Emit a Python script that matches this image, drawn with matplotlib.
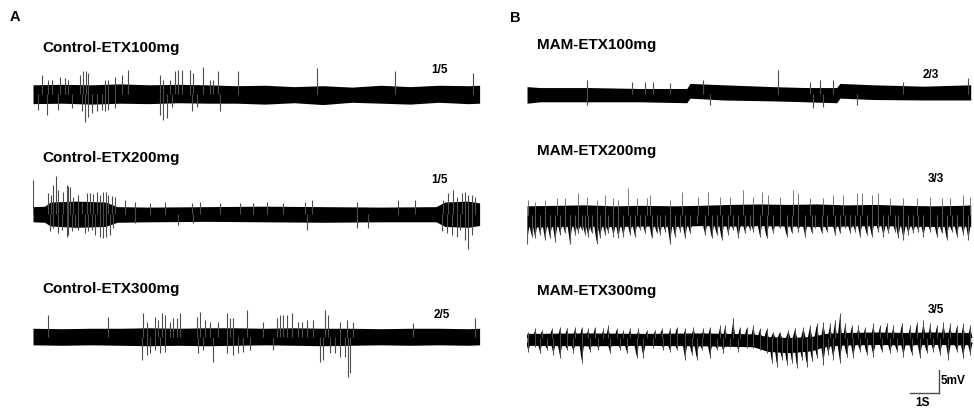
import matplotlib
matplotlib.use('Agg')
import matplotlib.pyplot as plt

plt.rcParams['font.family'] = ['Liberation Sans', 'DejaVu Sans']

W, H = 974, 412

# ---- data: time in s, amplitude in mV (relative to trace baseline) ----
# Control-ETX100mg
a1_env_t = [0, 1, 2, 3, 4, 5, 6, 7, 8, 9, 10, 11, 12, 13, 14, 15, 15.4]
a1_env_hi = [2.0, 2.1, 2.0, 2.2, 2.0, 2.1, 2.0, 1.8, 1.9, 1.6, 1.8, 1.5, 1.9, 1.6, 1.9, 1.8, 1.9]
a1_env_lo = [-2.1, -2.0, -2.2, -2.0, -2.1, -1.9, -2.0, -2.0, -2.2, -1.9, -2.3, -1.8, -2.0, -2.2, -1.8, -2.1, -2.0]
a1_up_t = [0.30, 0.53, 0.64, 0.93, 1.10, 1.22, 1.62, 1.71, 1.83, 1.91, 2.48, 2.60, 2.83, 3.06, 3.29,
           4.38, 4.49, 4.72, 4.90, 5.01, 5.13, 5.41, 5.53, 5.87, 6.10, 6.22, 6.39, 7.08, 9.78, 12.48, 15.18]
a1_up_h = [4.1, 3.0, 3.0, 3.8, 3.4, 3.0, 4.1, 4.9, 4.9, 4.5, 3.0, 3.0, 3.8, 4.1, 5.2,
           4.1, 3.0, 3.0, 4.9, 5.2, 5.2, 5.2, 4.5, 5.9, 3.0, 3.0, 4.9, 4.9, 5.6, 4.9, 4.5]
a1_dn_t = [0.18, 0.47, 0.87, 1.33, 1.68, 1.79, 1.91, 2.02, 2.20, 2.37, 2.48, 2.60, 2.83,
           4.38, 4.49, 4.61, 4.78, 5.47, 5.64, 6.45]
a1_dn_h = [3.5, 4.6, 3.5, 3.1, 3.8, 6.0, 4.9, 4.2, 3.8, 3.5, 3.8, 3.5, 3.1,
           4.6, 5.7, 5.3, 2.8, 3.8, 2.8, 3.8]

# Control-ETX200mg
a2_env_t = [0, 0.4, 0.6, 1.5, 2.5, 2.9, 4, 6, 8, 10, 12, 13.9, 14.2, 15.0, 15.4]
a2_env_hi = [1.6, 1.7, 2.6, 2.8, 2.6, 1.6, 1.5, 1.6, 1.7, 1.6, 1.5, 1.6, 2.6, 2.8, 2.4]
a2_env_lo = [-1.7, -1.8, -2.6, -2.9, -2.7, -1.8, -1.7, -1.6, -1.7, -1.8, -1.7, -1.7, -2.7, -2.9, -2.5]
a2_up_t = [0.01, 0.53, 0.61, 0.70, 0.79, 0.87, 1.02, 1.16, 1.22, 1.28, 1.39, 1.56, 1.68, 1.85, 1.97,
           2.08, 2.20, 2.31, 2.43, 2.52, 2.60, 2.71, 2.83, 3.17, 3.52, 4.03, 4.55, 5.47, 5.76, 6.45,
           7.14, 7.60, 8.06, 8.63, 9.38, 9.61, 11.16, 12.60, 13.17, 14.15, 14.32, 14.49, 14.61,
           14.78, 14.90, 15.01, 15.13, 15.24]
a2_up_h = [7.4, 4.5, 4.1, 6.3, 8.3, 5.2, 4.8, 6.3, 6.1, 5.9, 3.8, 4.1, 2.7, 4.5, 4.5,
           4.3, 4.8, 4.1, 4.8, 4.8, 4.1, 3.9, 3.8, 3.0, 2.7, 2.3, 2.7, 2.3, 2.7, 2.3,
           2.3, 2.5, 2.7, 2.3, 2.7, 3.0, 2.7, 3.0, 3.0, 3.0, 4.5, 5.2, 3.8,
           4.5, 4.8, 4.1, 4.1, 3.8]
a2_dn_t = [0.59, 0.70, 0.87, 0.99, 1.16, 1.22, 1.33, 1.45, 1.56, 1.79, 1.91, 2.02, 2.14, 2.31,
           2.43, 2.52, 2.66, 2.77, 3.52, 5.01, 5.53, 9.44, 11.16, 11.56, 14.09, 14.26, 14.44,
           14.61, 14.72, 14.90, 15.01, 15.13]
a2_dn_h = [3.8, 3.1, 4.2, 3.5, 4.9, 4.6, 3.8, 3.1, 3.5, 4.2, 3.8, 3.5, 4.6, 4.9,
           5.3, 4.9, 4.6, 3.1, 2.0, 2.4, 2.0, 3.5, 3.1, 3.1, 3.8, 4.2, 4.6,
           4.9, 3.5, 5.7, 7.5, 4.6]

# Control-ETX300mg
a3_env_t = [0, 1, 2, 3, 4, 5, 6, 7, 8, 9, 10, 11, 12, 13, 14, 15, 15.4]
a3_env_hi = [1.9, 1.8, 1.9, 1.9, 2.0, 1.9, 2.0, 2.0, 1.9, 2.0, 1.9, 1.9, 1.8, 1.9, 1.9, 1.8, 1.9]
a3_env_lo = [-1.7, -1.8, -1.7, -1.8, -1.9, -1.8, -1.9, -1.8, -1.7, -1.8, -1.9, -1.8, -1.7, -1.8, -1.7, -1.8, -1.7]
a3_up_t = [0.53, 2.60, 3.80, 3.92, 4.21, 4.32, 4.44, 4.55, 4.72, 4.84, 4.95, 5.07, 5.64, 5.76,
           5.93, 6.10, 6.39, 6.68, 6.79, 6.91, 7.37, 7.94, 8.40, 8.52, 8.63, 8.75, 8.92, 9.15,
           9.26, 9.44, 9.67, 10.07, 10.18, 10.59, 10.82, 11.05, 13.11, 15.24]
a3_up_h = [4.8, 4.4, 5.2, 3.3, 4.4, 3.7, 5.2, 4.8, 3.3, 4.1, 4.1, 5.2, 4.4, 5.5,
           3.7, 3.3, 3.3, 5.2, 4.1, 4.1, 5.9, 3.3, 4.1, 4.8, 4.8, 4.8, 5.2, 3.3,
           3.3, 3.7, 3.7, 5.9, 4.8, 3.3, 3.7, 3.3, 3.0, 4.1]
a3_dn_t = [3.75, 3.92, 4.03, 4.21, 4.38, 4.55, 5.70, 5.87, 6.22, 6.68, 6.91, 7.08, 7.25, 7.48,
           8.29, 9.90, 10.01, 10.24, 10.41, 10.59, 10.76, 10.87, 10.93]
a3_dn_h = [5.0, 3.9, 3.5, 2.8, 3.5, 3.2, 3.5, 2.8, 5.4, 3.5, 3.9, 3.5, 3.2, 2.8,
           2.8, 5.4, 5.0, 3.5, 3.5, 4.3, 4.3, 8.6, 7.9]

# MAM-ETX100mg
b1_env_t = [0, 0.45, 2.17, 3.90, 5.51, 5.62, 6.77, 8.49, 9.64, 10.68, 10.79, 11.94, 13.67, 15.3]
b1_env_hi = [1.6, 1.4, 1.4, 1.2, 1.2, 2.3, 2.0, 1.6, 1.4, 1.4, 2.3, 2.0, 1.7, 2.0]
b1_env_lo = [-2.0, -1.7, -1.7, -1.7, -1.9, -0.9, -1.3, -1.5, -1.7, -1.9, -0.9, -1.2, -1.3, -1.3]
b1_up_t = [2.06, 3.61, 4.07, 4.36, 4.93, 6.08, 8.67, 9.76, 10.10, 10.56, 12.98, 15.22]
b1_up_h = [3.0, 2.7, 2.7, 2.7, 2.3, 3.0, 5.2, 2.7, 3.0, 3.0, 2.7, 3.4]
b1_dn_t = [2.06, 6.31, 9.87, 10.22, 11.37]
b1_dn_h = [2.4, 2.4, 3.1, 2.8, 2.4]

# MAM-ETX200mg
b2_env_t = [0, 1, 2, 3, 4, 5, 6, 7, 8, 9, 10, 11, 12, 13, 14, 15, 15.3]
b2_env_hi = [2.0, 2.1, 2.2, 2.0, 2.1, 2.0, 2.1, 2.3, 2.4, 2.3, 2.4, 2.2, 2.3, 2.1, 2.0, 2.1, 2.2]
b2_env_lo = [-2.6, -2.5, -2.4, -2.5, -2.4, -2.5, -2.3, -2.4, -2.3, -2.4, -2.5, -2.4, -2.3, -2.4, -2.5, -2.4, -2.5]
b2_up_t = [0.05, 0.28, 0.62, 1.02, 1.31, 1.77, 2.06, 2.40, 2.69, 2.98, 3.15, 3.49, 3.78, 4.13, 4.24,
           4.93, 5.33, 5.91, 6.25, 6.66, 7.00, 7.46, 7.80, 8.09, 8.32, 8.72, 9.18, 9.36, 9.76, 10.22,
           10.56, 10.91, 11.37, 11.54, 11.89, 12.11, 12.52, 12.98, 13.44, 13.90, 14.30, 14.59, 15.05, 15.28]
b2_up_h = [3.3, 2.9, 3.3, 3.6, 3.6, 4.7, 4.0, 3.3, 4.3, 3.6, 3.3, 5.8, 3.6, 3.6, 4.3,
           3.3, 5.1, 4.0, 5.1, 4.0, 4.0, 5.4, 4.0, 5.1, 4.3, 4.0, 5.4, 4.7, 3.6, 3.6,
           4.3, 4.3, 4.7, 4.7, 4.3, 4.7, 3.6, 3.6, 3.6, 4.0, 3.6, 3.6, 4.3, 4.0]
b2_dn_t = [0.00, 0.16, 0.28, 0.45, 0.62, 0.79, 0.97, 1.14, 1.31, 1.48, 1.66, 1.77, 1.89, 2.00, 2.11,
           2.23, 2.40, 2.52, 2.69, 2.80, 2.98, 3.15, 3.32, 3.55, 3.72, 3.90, 4.07, 4.30, 4.47, 4.59,
           4.76, 4.93, 5.10, 5.28, 5.45, 5.62, 5.85, 6.14, 6.37, 6.54, 6.71, 6.94, 7.11, 7.29, 7.52,
           7.69, 7.80, 8.03, 8.26, 8.49, 8.72, 8.95, 9.13, 9.36, 9.59, 9.82, 9.93, 10.16, 10.33, 10.62,
           10.79, 10.97, 11.14, 11.31, 11.48, 11.71, 11.89, 12.11, 12.29, 12.46, 12.69, 12.80, 12.98,
           13.15, 13.32, 13.49, 13.67, 13.90, 14.13, 14.30, 14.47, 14.64, 14.82, 15.04, 15.22]
b2_dn_h = [6.2, 4.7, 5.1, 4.3, 5.4, 5.1, 5.8, 4.3, 4.0, 6.2, 4.3, 4.0, 3.3, 4.3, 4.7,
           4.0, 6.2, 5.1, 4.3, 4.0, 4.7, 5.1, 4.7, 4.3, 4.7, 3.3, 4.0, 5.1, 4.0, 4.3,
           3.6, 6.2, 4.7, 3.6, 5.1, 4.0, 1.8, 4.3, 5.1, 4.3, 5.4, 4.3, 3.3, 5.1, 4.0,
           3.3, 3.6, 4.7, 5.1, 4.0, 2.9, 4.7, 4.0, 3.6, 4.7, 4.0, 2.9, 4.0, 3.6, 4.3,
           4.0, 2.9, 4.0, 3.6, 4.7, 4.3, 4.7, 3.6, 4.7, 4.0, 3.6, 5.1, 5.4,
           4.3, 4.0, 3.6, 4.7, 3.6, 4.7, 4.0, 5.4, 3.6, 4.7, 4.3, 5.4]

# MAM-ETX300mg
b3_env_t = [0, 2, 4, 6, 7.8, 8.3, 9.0, 9.8, 10.3, 11, 12, 13, 14, 15, 15.3]
b3_env_hi = [1.0, 1.1, 1.0, 1.1, 0.9, 0.3, 0.1, 0.3, 1.0, 1.2, 1.3, 1.2, 1.3, 1.2, 1.2]
b3_env_lo = [-1.6, -1.7, -1.6, -1.7, -1.9, -2.9, -3.2, -2.8, -1.8, -1.5, -1.4, -1.5, -1.4, -1.5, -1.4]
b3_up_t = [0.05, 0.28, 0.51, 0.85, 1.14, 1.37, 1.66, 1.89, 2.11, 2.34, 2.63, 2.80, 3.09, 3.32, 3.55,
           3.84, 4.13, 4.41, 4.64, 4.93, 5.16, 5.45, 5.74, 6.08, 6.31, 6.66, 6.83, 7.11, 7.34, 7.57,
           7.80, 8.03, 8.26, 8.49, 8.72, 9.01, 9.24, 9.53, 9.76, 9.99, 10.22, 10.45, 10.62, 10.79,
           10.97, 11.20, 11.43, 11.66, 11.94, 12.17, 12.40, 12.63, 12.92, 13.21, 13.44, 13.67, 13.90,
           14.13, 14.36, 14.59, 14.82, 15.04, 15.28]
b3_up_h = [1.4, 2.1, 1.7, 2.1, 2.5, 2.1, 2.5, 2.5, 2.1, 2.5, 2.1, 2.8, 2.1, 1.7, 2.1,
           2.1, 1.7, 1.7, 2.1, 2.1, 2.5, 2.1, 2.5, 2.1, 2.5, 2.8, 2.8, 4.3, 2.5, 2.5,
           2.8, 2.1, 2.1, 1.4, 1.4, 1.7, 2.1, 2.5, 2.8, 3.2, 3.5, 3.2, 3.9, 5.4,
           3.2, 2.8, 2.8, 2.5, 3.2, 2.8, 3.2, 2.8, 3.2, 2.8, 3.5, 3.9, 3.2,
           2.8, 3.5, 3.2, 2.8, 3.2, 2.8]
b3_dn_t = [0.05, 0.28, 0.45, 0.68, 0.91, 1.14, 1.37, 1.60, 1.89, 2.17, 2.46, 2.86, 3.21, 3.44, 3.78,
           4.01, 4.36, 4.70, 4.93, 5.16, 5.45, 5.68, 5.85, 6.02, 6.31, 6.54, 6.77, 7.00, 7.29, 7.57,
           7.80, 8.03, 8.26, 8.44, 8.61, 8.78, 8.95, 9.13, 9.30, 9.47, 9.64, 9.82, 9.99, 10.22, 10.39,
           10.56, 10.79, 11.02, 11.25, 11.48, 11.71, 11.94, 12.23, 12.52, 12.75, 12.98, 13.26, 13.55,
           13.78, 14.01, 14.24, 14.53, 14.82, 15.04, 15.28]
b3_dn_h = [3.0, 1.9, 3.3, 2.6, 3.7, 4.4, 2.6, 3.3, 5.5, 3.0, 2.6, 3.3, 2.6, 3.3, 4.4,
           4.4, 2.2, 2.6, 3.0, 2.6, 4.8, 3.7, 4.8, 2.6, 4.4, 2.6, 3.3, 1.9, 3.0, 2.2,
           2.2, 2.6, 3.3, 5.5, 6.2, 4.8, 5.9, 5.5, 6.6, 4.8, 6.2, 5.1, 4.4, 5.9, 3.7,
           4.8, 5.5, 4.1, 4.4, 3.0, 3.7, 4.1, 3.0, 3.3, 3.0, 4.1, 3.7, 4.4,
           3.3, 3.0, 3.7, 4.8, 3.0, 4.4, 3.7]

titles = ['Control-ETX100mg', 'Control-ETX200mg', 'Control-ETX300mg',
          'MAM-ETX100mg', 'MAM-ETX200mg', 'MAM-ETX300mg']
ratios = ['1/5', '1/5', '2/5', '2/3', '3/3', '3/5']

traces = [
    (a1_env_t, a1_env_hi, a1_env_lo, a1_up_t, a1_up_h, a1_dn_t, a1_dn_h),
    (a2_env_t, a2_env_hi, a2_env_lo, a2_up_t, a2_up_h, a2_dn_t, a2_dn_h),
    (a3_env_t, a3_env_hi, a3_env_lo, a3_up_t, a3_up_h, a3_dn_t, a3_dn_h),
    (b1_env_t, b1_env_hi, b1_env_lo, b1_up_t, b1_up_h, b1_dn_t, b1_dn_h),
    (b2_env_t, b2_env_hi, b2_env_lo, b2_up_t, b2_up_h, b2_dn_t, b2_dn_h),
    (b3_env_t, b3_env_hi, b3_env_lo, b3_up_t, b3_up_h, b3_dn_t, b3_dn_h),
]

# ---- layout (pixels) ----
PX_PER_S = 29.0
PX_PER_MV = 4.6
T_MAX = 15.4
YHALF = 10.0
x0s = [33, 33, 33, 527, 527, 527]
centers = [94, 214, 337, 94, 215, 338]
title_xy = [(42, 48), (42, 158), (42, 289), (537, 45), (537, 151), (537, 291)]
ratio_xy = [(439, 70), (439, 180), (442, 315), (931, 75), (936, 179), (936, 310)]

fig = plt.figure(figsize=(W / 100, H / 100), dpi=100)

def fx(x):
    return x / W

def fy(y):
    return 1 - y / H

def teeth(ax, ts, hs, base, halfw, sign, color):
    # triangular deflections: wide at the trace body, narrow at the tip
    for t, v in zip(ts, hs):
        ax.fill([t - halfw, t, t + halfw], [sign * base, sign * v, sign * base],
                color=color, lw=0)

axes = []
for i, (et, ehi, elo, ut, uh, dt, dh) in enumerate(traces):
    w = T_MAX * PX_PER_S
    h = 2 * YHALF * PX_PER_MV
    ax = fig.add_axes([fx(x0s[i]), fy(centers[i] + h / 2), w / W, h / H])
    ax.set_xlim(0, T_MAX)
    ax.set_ylim(-YHALF, YHALF)
    ax.axis('off')
    ax.fill_between(et, elo, ehi, color='black', lw=0)
    if i == 4:
        # dense dark downward bursts
        ax.vlines(dt, 0, [-d for d in dh], color='0.35', lw=0.8)
        teeth(ax, dt, [0.95 * d for d in dh], 1.5, 0.1, -1, 'black')
        ax.vlines(ut, 0, uh, color='0.4', lw=0.6)
    elif i == 5:
        ax.vlines(dt, 0, [-d for d in dh], color='0.3', lw=0.7)
        ax.vlines(ut, 0, uh, color='0.3', lw=0.7)
        teeth(ax, dt, [0.9 * d for d in dh], 1.0, 0.09, -1, 'black')
        teeth(ax, ut, [0.85 * v for v in uh], 0.0, 0.08, 1, 'black')
    else:
        ax.vlines(ut, 0, uh, color='0.3', lw=0.8)
        ax.vlines(dt, 0, [-d for d in dh], color='0.3', lw=0.8)
    axes.append(ax)

for i in range(6):
    fig.text(fx(title_xy[i][0]), fy(title_xy[i][1]), titles[i], fontsize=11,
             fontweight='bold', ha='left', va='center')
    fig.text(fx(ratio_xy[i][0]), fy(ratio_xy[i][1]), ratios[i], fontsize=8.5,
             fontweight='bold', ha='center', va='center')

fig.text(fx(10), fy(17), 'A', fontsize=10.5, fontweight='bold', ha='left', va='center')
fig.text(fx(510), fy(18), 'B', fontsize=10.5, fontweight='bold', ha='left', va='center')

# scale bar: 1 s, 5 mV
ax = axes[5]
sb_t, sb_y = 13.2, -12.0
ax.plot([sb_t, sb_t + 1], [sb_y, sb_y], color='0.3', lw=1, clip_on=False)
ax.plot([sb_t + 1, sb_t + 1], [sb_y, sb_y + 5], color='0.3', lw=1, clip_on=False)
fig.text(fx(941), fy(381), '5mV', fontsize=8.5, fontweight='bold', ha='left', va='center')
fig.text(fx(923), fy(403), '1S', fontsize=8.5, fontweight='bold', ha='center', va='center')

fig.savefig('out.png', dpi=100)
